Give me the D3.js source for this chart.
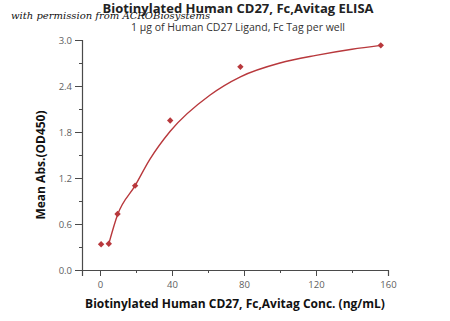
<!DOCTYPE html>
<html><head><meta charset="utf-8">
<script src="https://cdn.jsdelivr.net/npm/d3@7"></script>
<style>body{margin:0;background:#fff}svg{display:block}</style>
</head><body>
<script>
const concentrations = [0.61, 4.88, 9.75, 19.5, 39, 78, 156];
const absorbance = [0.335, 0.343, 0.73, 1.10, 1.95, 2.65, 2.93];
const fitX = [4.88, 9.75, 19.5, 27.6, 39, 61, 78, 100, 120, 140, 156];
const fitY = [0.34, 0.72, 1.10, 1.44, 1.81, 2.28, 2.52, 2.70, 2.80, 2.88, 2.93];
const xTicks = [0, 40, 80, 120, 160];
const xMinor = [20, 60, 100, 140];
const yTicks = [0.0, 0.6, 1.2, 1.8, 2.4, 3.0];
const yMinor = [0.3, 0.9, 1.5, 2.1, 2.7];
const title = "Biotinylated Human CD27, Fc,Avitag ELISA";
const subtitle = "1 μg of Human CD27 Ligand, Fc Tag per well";
const xTitle = "Biotinylated Human CD27, Fc,Avitag Conc. (ng/mL)";
const yTitle = "Mean Abs.(OD450)";
const watermark = "with permission from ACROBiosystems";

const W = 450, H = 321;
const svg = d3.select("body").append("svg").attr("width", W).attr("height", H);
const x = d3.scaleLinear().domain([-10, 160]).range([82, 388]);
const y = d3.scaleLinear().domain([0, 3]).range([270, 40]);
const axisColor = "#4a4a4a", red = "#b8383c";
const font = "'Open Sans', 'Noto Sans', sans-serif";

// axes
const xa = svg.append("g").attr("transform", "translate(0,270)")
  .call(d3.axisBottom(x).tickValues(xTicks).tickSize(6).tickPadding(5).tickFormat(d3.format("d")));
const xm = svg.append("g").attr("transform", "translate(0,270)")
  .call(d3.axisBottom(x).tickValues(xMinor).tickSize(3).tickFormat(""));
const ya = svg.append("g").attr("transform", "translate(82,0)")
  .call(d3.axisLeft(y).tickValues(yTicks).tickSize(7).tickPadding(3).tickFormat(d3.format(".1f")));
const ym = svg.append("g").attr("transform", "translate(82,0)")
  .call(d3.axisLeft(y).tickValues(yMinor).tickSize(3).tickFormat(""));
[xa, xm, ya, ym].forEach(g => {
  g.selectAll("path").attr("stroke", axisColor).attr("stroke-width", 1.2);
  g.selectAll("line").attr("stroke", axisColor).attr("stroke-width", 1);
  g.selectAll("text").attr("fill", "#606060").style("font-family", font).style("font-size", "9.5px");
});
xm.select("path").remove(); ym.select("path").remove();

// fitted curve
const line = d3.line().x((d, i) => x(fitX[i])).y((d, i) => y(fitY[i])).curve(d3.curveMonotoneX);
svg.append("path").datum(fitX).attr("d", line).attr("fill", "none")
  .attr("stroke", red).attr("stroke-width", 1.4);

// points
svg.selectAll(".pt").data(concentrations).enter().append("path")
  .attr("d", d3.symbol().type(d3.symbolDiamond2).size(26))
  .attr("transform", (d, i) => `translate(${x(d)},${y(absorbance[i])})`)
  .attr("fill", red);

// titles
svg.append("text").attr("x", 238).attr("y", 13).attr("text-anchor", "middle")
  .style("font-family", font).style("font-weight", "bold").style("font-size", "13px")
  .attr("fill", "#222").text(title);
svg.append("text").attr("x", 238).attr("y", 31).attr("text-anchor", "middle")
  .style("font-family", font).style("font-size", "10.5px").attr("fill", "#333").text(subtitle);
svg.append("text").attr("x", 235).attr("y", 308).attr("text-anchor", "middle")
  .style("font-family", font).style("font-weight", "bold").style("font-size", "12px")
  .attr("fill", "#111").text(xTitle);
svg.append("text").attr("transform", "translate(45,165) rotate(-90)").attr("text-anchor", "middle")
  .style("font-family", font).style("font-weight", "bold").style("font-size", "12px")
  .attr("fill", "#111").text(yTitle);
svg.append("text").attr("x", 11).attr("y", 19)
  .style("font-family", "'DejaVu Serif', serif").style("font-style", "italic").style("font-size", "10px")
  .attr("fill", "#111").text(watermark);
</script>
</body></html>
